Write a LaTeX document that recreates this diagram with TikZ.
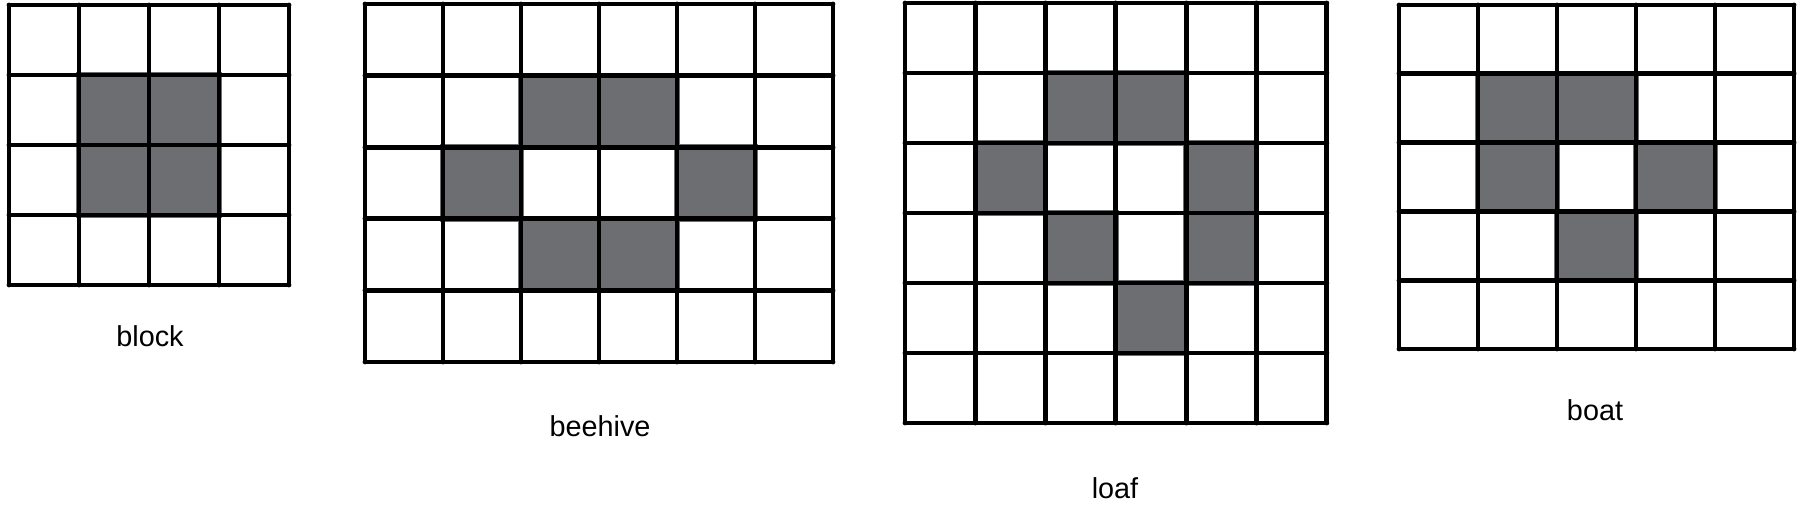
\documentclass[tikz,border=0pt]{standalone}
\usepackage{fontspec}
\setmainfont{Liberation Sans}
\usetikzlibrary{positioning}
\definecolor{cellgray}{HTML}{6D6E71}

% grid of #1 columns and #2 rows, one unit per cell
\newcommand{\lifegrid}[2]{%
  \foreach \i in {0,...,#1} {\draw[grid line] (\i,0) -- (\i,#2);}
  \foreach \j in {0,...,#2} {\draw[grid line] (0,\j) -- (#1,\j);}
}

\begin{document}
\begin{tikzpicture}[x=0.1mm, y=-0.1mm,
    % Cell and grid styles
    live cell/.style={fill=cellgray, draw=none},
    grid line/.style={draw, line width=1.4pt, line cap=round},
    % Pattern names under each grid
    pattern label/.style={font=\fontsize{8.2}{10}\selectfont, anchor=center},
  ]
  \useasboundingbox (0,0) rectangle (1800,508);

  % --- block ---
  \begin{scope}[shift={(9,5)}, xscale=70, yscale=70]
    \foreach \c/\r in {1/1, 2/1, 1/2, 2/2} {
      \fill[live cell] (\c-0.04,\r-0.04) rectangle ++(1.08,1.08);
    }
    \lifegrid{4}{4}
  \end{scope}
  \node[pattern label] (block) at (150,336) {block};

  % --- beehive ---
  \begin{scope}[shift={(365,4)}, xscale=78, yscale=71.6]
    \foreach \c/\r in {2/1, 3/1, 1/2, 4/2, 2/3, 3/3} {
      \fill[live cell] (\c-0.04,\r-0.04) rectangle ++(1.08,1.08);
    }
    \lifegrid{6}{5}
  \end{scope}
  \node[pattern label] (beehive) at (600,426) {beehive};

  % --- loaf ---
  \begin{scope}[shift={(905,3)}, xscale=70.3, yscale=70]
    \foreach \c/\r in {2/1, 3/1, 1/2, 4/2, 2/3, 4/3, 3/4} {
      \fill[live cell] (\c-0.04,\r-0.04) rectangle ++(1.08,1.08);
    }
    \lifegrid{6}{6}
  \end{scope}
  \node[pattern label] (loaf) at (1115,488) {loaf};

  % --- boat ---
  \begin{scope}[shift={(1399,5)}, xscale=79, yscale=68.8]
    \foreach \c/\r in {1/1, 2/1, 1/2, 3/2, 2/3} {
      \fill[live cell] (\c-0.04,\r-0.04) rectangle ++(1.08,1.08);
    }
    \lifegrid{5}{5}
  \end{scope}
  \node[pattern label] (boat) at (1595,410) {boat};

\end{tikzpicture}
\end{document}
